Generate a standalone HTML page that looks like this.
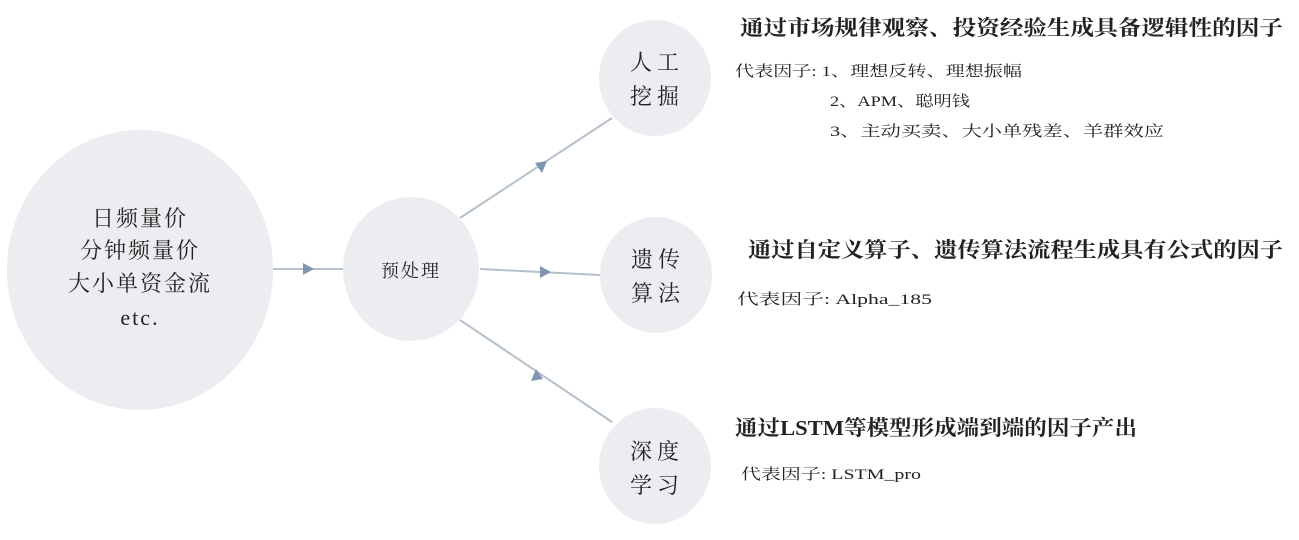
<!DOCTYPE html>
<html><head><meta charset="utf-8"><style>
html,body{margin:0;padding:0;background:#fff;}
svg{display:block;}
text{font-family:"Liberation Serif","Noto Serif CJK SC",serif;fill:#222;}
.t{font-weight:bold;font-size:21px;}
.s{font-size:15px;}
.c{font-size:22px;}
</style></head><body>
<svg width="1299" height="540" viewBox="0 0 1299 540">
<g fill="#ecedf0">
<ellipse cx="140" cy="270" rx="133" ry="140"/>
<ellipse cx="411" cy="269" rx="68" ry="72"/>
<ellipse cx="655" cy="78" rx="56" ry="58"/>
<ellipse cx="656" cy="275" rx="56" ry="58"/>
<ellipse cx="655" cy="466" rx="56" ry="58"/>
</g>
<g stroke="#b6c0cc" stroke-width="2" fill="none">
<line x1="273" y1="269" x2="343" y2="269"/>
<line x1="480" y1="269" x2="600" y2="275"/>
<line x1="460" y1="218" x2="612" y2="118"/>
<line x1="460" y1="320" x2="612" y2="422"/>
</g>
<g fill="#7f95b0">
<polygon points="314,269 303,263 303,275"/>
<polygon points="551,272 540,266 540,278"/>
<polygon points="547,161 535,163 542,173"/>
<polygon points="543,379 536,369 531,381"/>
</g>
<g class="c" text-anchor="middle">
<text x="140" y="226" letter-spacing="2">日频量价</text>
<text x="140" y="258" letter-spacing="2">分钟频量价</text>
<text x="140" y="291" letter-spacing="2">大小单资金流</text>
<text x="140" y="325" letter-spacing="2">etc.</text>
<text x="411" y="277" style="font-size:18px" letter-spacing="2">预处理</text>
<text x="657" y="70" letter-spacing="5">人工</text>
<text x="657" y="104" letter-spacing="5">挖掘</text>
<text x="658" y="267" letter-spacing="5">遗传</text>
<text x="658" y="301" letter-spacing="5">算法</text>
<text x="657" y="459" letter-spacing="5">深度</text>
<text x="657" y="493" letter-spacing="5">学习</text>
</g>
<text class="t" x="740" y="35" textLength="543" lengthAdjust="spacingAndGlyphs">通过市场规律观察、投资经验生成具备逻辑性的因子</text>
<text class="s" x="735" y="76" textLength="287" lengthAdjust="spacingAndGlyphs">代表因子: 1、理想反转、理想振幅</text>
<text class="s" x="830" y="106" textLength="140" lengthAdjust="spacingAndGlyphs">2、APM、聪明钱</text>
<text class="s" x="830" y="136" textLength="334" lengthAdjust="spacingAndGlyphs">3、主动买卖、大小单残差、羊群效应</text>
<text class="t" x="748" y="257" textLength="535" lengthAdjust="spacingAndGlyphs">通过自定义算子、遗传算法流程生成具有公式的因子</text>
<text class="s" x="737" y="304" textLength="195" lengthAdjust="spacingAndGlyphs">代表因子: Alpha_185</text>
<text class="t" x="735" y="435" textLength="402" lengthAdjust="spacingAndGlyphs">通过LSTM等模型形成端到端的因子产出</text>
<text class="s" x="741" y="479" textLength="180" lengthAdjust="spacingAndGlyphs">代表因子: LSTM_pro</text>
</svg>
</body></html>
